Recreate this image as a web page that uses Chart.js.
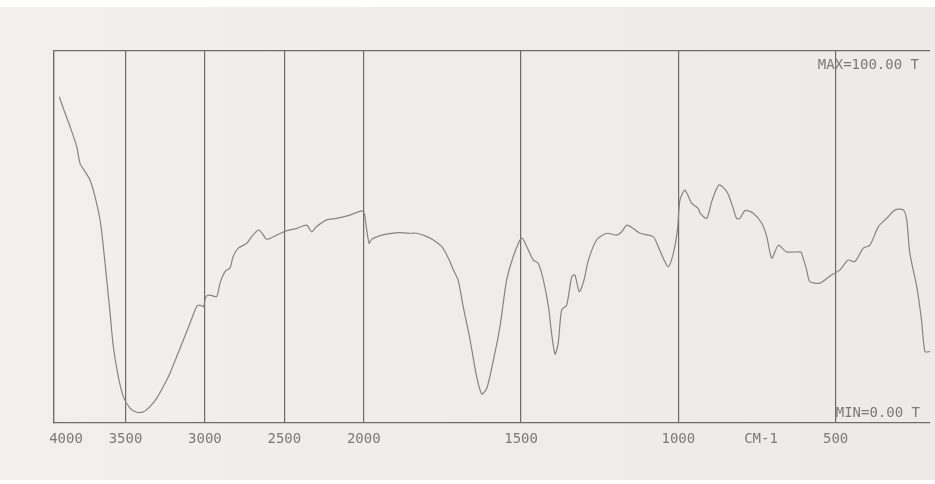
<!DOCTYPE html>
<html>
<head>
<meta charset="utf-8">
<title>IR spectrum</title>
<script src="https://cdn.jsdelivr.net/npm/chart.js@4/dist/chart.umd.min.js"></script>
<style>
  html, body { margin: 0; padding: 0; background: #ffffff; }
  #wrap { width: 935px; height: 484px; position: relative; }
</style>
</head>
<body>
<div id="wrap"><canvas id="ir" width="935" height="484"></canvas></div>
<script>
// Wavenumbers (cm-1) of the recorded trace, high to low
const wavenumbers = [
  3963, 3935, 3888, 3841, 3818, 3783, 3748, 3713, 3678, 3655, 3631, 3608, 3585, 3550, 3515,
  3472, 3430, 3388, 3346, 3304, 3262, 3220, 3178, 3136, 3094, 3052, 3031, 3010, 2993, 2968,
  2926, 2905, 2874, 2842, 2823, 2790, 2737, 2706, 2664, 2643, 2611, 2548, 2485, 2422, 2360,
  2328, 2297, 2234, 2171, 2087, 2013,
  1998, 1993, 1983, 1975, 1933, 1890, 1859, 1832, 1805, 1779, 1752, 1731, 1715, 1700, 1684,
  1662, 1641, 1625, 1609, 1588, 1567, 1546, 1525, 1498, 1477, 1461, 1445, 1429, 1413, 1403,
  1392, 1382, 1371, 1355, 1339, 1329, 1315, 1300, 1286, 1260, 1228, 1196, 1180, 1164, 1143,
  1122, 1080, 1064, 1048, 1032, 1016, 1003, 995, 979, 958, 937, 931, 910, 894, 871,
  846, 831, 815, 804, 788, 762, 735, 719, 703, 682, 656, 613, 608, 592, 582,
  550, 513, 487, 460, 439, 412, 391, 364, 338, 311, 285, 274, 264, 242, 227,
  216, 200
];

// Transmittance (%T) at each wavenumber
const transmittance = [
  87.7, 84.6, 79.7, 74.3, 69.8, 67.6, 65.3, 60.8, 54.6, 47.4, 38.4, 29.6, 20.5, 12.4, 7.1,
  4.0, 2.9, 3.0, 4.4, 6.6, 9.8, 13.4, 17.8, 22.3, 26.8, 31.3, 31.7, 31.3, 34.0, 34.4,
  34.0, 37.6, 40.7, 41.7, 44.7, 47.0, 48.3, 50.1, 51.9, 51.2, 49.4, 50.5, 51.7, 52.3, 53.2,
  51.4, 52.8, 54.6, 55.0, 55.9, 57.0,
  56.2, 53.2, 48.3, 49.4, 50.7, 51.2, 51.0, 51.0, 50.3, 49.2, 47.4, 44.3, 41.1, 38.4, 31.3,
  22.3, 12.4, 7.8, 9.3, 16.9, 25.9, 38.4, 44.7, 49.7, 46.5, 43.8, 42.9, 38.4, 31.3, 24.1,
  18.5, 21.4, 30.4, 31.7, 39.3, 39.8, 35.3, 38.4, 43.8, 49.2, 51.0, 50.5, 51.4, 53.2, 52.3,
  51.0, 50.1, 47.4, 44.3, 42.0, 45.6, 51.9, 59.9, 62.6, 59.1, 57.7, 56.4, 55.0, 59.5, 64.0,
  62.2, 59.1, 55.0, 55.0, 57.1, 56.4, 53.7, 50.1, 44.3, 47.8, 46.0, 46.0, 45.6, 41.1, 38.0,
  37.6, 39.8, 41.1, 43.8, 43.4, 47.0, 47.8, 52.8, 55.0, 57.3, 57.3, 54.6, 45.6, 36.6, 27.7,
  19.2, 19.2
];

// Grid positions along the wavenumber axis
const tickValues = [4000, 3500, 3000, 2500, 2000, 1500, 1000, 500];
const tickLabels = ['4000', '3500', '3000', '2500', '2000', '1500', '1000', '500'];
const axisTitle = 'CM-1';
const maxLabel = 'MAX=100.00 T';
const minLabel = 'MIN=0.00 T';

// Instrument abscissa: the chart expands below 2000 cm-1 (double resolution)
const AXIS_SEGMENTS = [
  { hi: 4000, lo: 3500, density: 0.9 },
  { hi: 3500, lo: 2000, density: 1.0 },
  { hi: 2000, lo: 200,  density: 1.98 }
];

class WavenumberScale extends Chart.LinearScale {
  static id = 'wavenumber';
  static defaults = Chart.LinearScale.defaults;

  _units(w) {
    let u = 0;
    for (const s of AXIS_SEGMENTS) {
      const top = s.hi;
      const bottom = Math.max(s.lo, Math.min(s.hi, w));
      if (w < s.hi) u += (top - bottom) * s.density;
    }
    return u;
  }
  _total() { return this._units(this.min); }
  getPixelForValue(value) {
    return this.getPixelForDecimal(this._units(value) / this._total());
  }
  getValueForPixel(pixel) {
    let u = this.getDecimalForPixel(pixel) * this._total();
    for (const s of AXIS_SEGMENTS) {
      const span = (s.hi - s.lo) * s.density;
      if (u <= span) return s.hi - u / s.density;
      u -= span;
    }
    return this.min;
  }
}
Chart.register(WavenumberScale);

const INK = '#6c6c6c';
const PEN = '#858585';
const TEXT = '#7a7a7a';
const FONT = '14px "DejaVu Sans Mono", "Liberation Mono", monospace';

const paper = {
  id: 'paper',
  beforeDraw(chart) {
    const { ctx, width, height } = chart;
    ctx.save();
    ctx.fillStyle = '#ffffff';
    ctx.fillRect(0, 0, width, height);
    const g = ctx.createLinearGradient(0, 0, width, 0);
    g.addColorStop(0, '#f1f0ec');
    g.addColorStop(0.5, '#eeede9');
    g.addColorStop(1, '#ecebe7');
    ctx.fillStyle = g;
    ctx.fillRect(0, 7, width, 473);
    ctx.restore();
  }
};

const annotations = {
  id: 'annotations',
  afterDraw(chart) {
    const { ctx, chartArea } = chart;
    const x = chart.scales.x;
    ctx.save();
    ctx.font = FONT;
    ctx.fillStyle = TEXT;
    ctx.textBaseline = 'middle';
    ctx.textAlign = 'center';
    const labelY = chartArea.bottom + 16;
    tickValues.forEach((v, i) => {
      let px = x.getPixelForValue(v);
      if (i === 0) px += 12; // first label sits just inside the frame
      ctx.fillText(tickLabels[i], px, labelY);
    });
    const mid = (x.getPixelForValue(1000) + x.getPixelForValue(500)) / 2 + 4;
    ctx.fillText(axisTitle, mid, labelY);
    ctx.textAlign = 'right';
    ctx.fillText(maxLabel, chartArea.right - 11, chartArea.top + 14);
    ctx.fillText(minLabel, chartArea.right - 10, chartArea.bottom - 10);
    ctx.restore();
  }
};

new Chart(document.getElementById('ir'), {
  type: 'line',
  data: {
    labels: wavenumbers,
    datasets: [{
      data: wavenumbers.map((w, i) => ({ x: w, y: transmittance[i] })),
      borderColor: PEN,
      borderWidth: 1.2,
      pointRadius: 0,
      tension: 0.25,
      fill: false
    }]
  },
  options: {
    responsive: false,
    animation: false,
    events: [],
    layout: { padding: { top: 51, right: 5, left: 0, bottom: 0 } },
    plugins: { legend: { display: false }, tooltip: { enabled: false } },
    scales: {
      x: {
        type: 'wavenumber',
        min: 200,
        max: 4000,
        afterBuildTicks: s => { s.ticks = tickValues.map(value => ({ value })); },
        afterFit: s => { s.height = 61; },
        ticks: { display: false },
        grid: { color: INK, lineWidth: 1.2, drawTicks: false },
        border: { display: true, color: INK, width: 1.2 }
      },
      y: {
        min: 0,
        max: 100,
        afterBuildTicks: s => { s.ticks = [{ value: 0 }, { value: 100 }]; },
        afterFit: s => { s.width = 54; },
        ticks: { display: false },
        grid: {
          drawTicks: false,
          lineWidth: 1.2,
          color: c => (c.tick && c.tick.value === 100 ? INK : 'rgba(0,0,0,0)')
        },
        border: { display: true, color: INK, width: 1.2 }
      }
    }
  },
  plugins: [paper, annotations]
});
</script>
</body>
</html>
